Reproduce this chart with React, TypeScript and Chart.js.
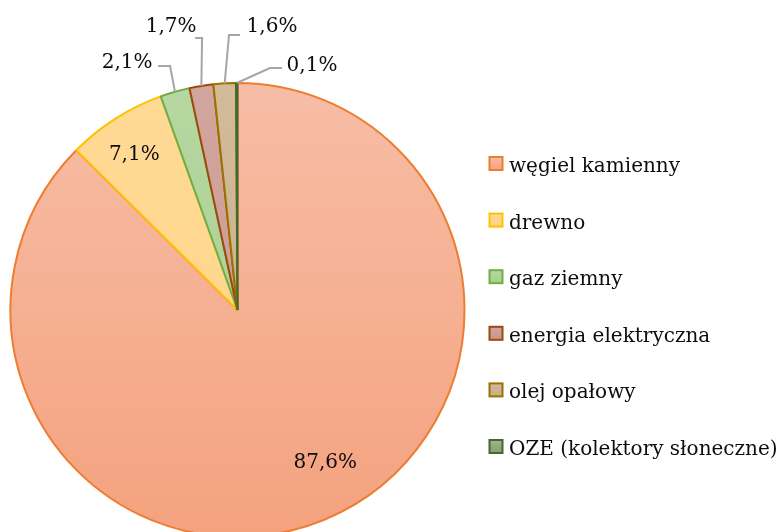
import React, { useEffect, useRef } from 'react';
import { Chart, registerables } from 'chart.js';

Chart.register(...registerables);

// ---- data ----
const CATEGORIES = [
  'węgiel kamienny',
  'drewno',
  'gaz ziemny',
  'energia elektryczna',
  'olej opałowy',
  'OZE (kolektory słoneczne)',
];
const VALUES = [87.6, 7.1, 2.1, 1.7, 1.6, 0.1];

// ---- styles ----
const BORDER_COLORS = ['#ED7D31', '#FFC000', '#70AD47', '#9E480E', '#997300', '#43682B'];
const FILL_TOP = ['#F7BDA6', '#FFDA96', '#B6D7A1', '#D2A59D', '#D3BA99', '#9DB38F'];
const FILL_BOTTOM = ['#F4A27E', '#FFD283', '#A5CE8B', '#C7978E', '#C8AD88', '#86A077'];
const TEXT_COLOR = '#0D0D0D';
const LEADER_COLOR = '#A6A6A6';
const FONT_FAMILY = '"DejaVu Serif", serif';
const FONT_SIZE = 20;
const RADIUS = 227;

// label layout: inside labels polar (angle shift deg, radius factor); outside labels offsets from slice edge point
const LABEL_LAYOUT: any[] = [
  { inside: true, angleShift: -7.5, rf: 0.77 },
  { inside: true, angleShift: -0.7, rf: 0.83 },
  { inside: false, label: [-47.9, -30.8], start: [-16.9, -25.8], elbow: [-4.9, -25.8] },
  { inside: false, label: [-30.3, -60.9], start: [-6.3, -47.9], elbow: [0.7, -47.9] },
  { inside: false, label: [47.3, -58.4], start: [15.3, -48.4], elbow: [4.3, -48.4] },
  { inside: false, label: [75.2, -19.5], start: [45.2, -15], elbow: [33.2, -15] },
];

const LEGEND_BOX_X = 489.5;
const LEGEND_BOX = 13;
const LEGEND_Y0 = 163.5;
const LEGEND_GAP = 56.6;
const LEGEND_TEXT_X = 509;

const fmt = (v: number) => v.toFixed(1).replace('.', ',') + '%';

const labelPlugin = {
  id: 'pieLabels',
  afterDatasetsDraw(chart: any) {
    const ctx = chart.ctx;
    const meta = chart.getDatasetMeta(0);
    ctx.save();
    ctx.font = `${FONT_SIZE}px ${FONT_FAMILY}`;
    ctx.fillStyle = TEXT_COLOR;
    ctx.textAlign = 'center';
    ctx.textBaseline = 'alphabetic';
    meta.data.forEach((arc: any, i: number) => {
      const { x, y, startAngle, endAngle, outerRadius } = arc.getProps(
        ['x', 'y', 'startAngle', 'endAngle', 'outerRadius'],
        true
      );
      const mid = (startAngle + endAngle) / 2;
      const lay = LABEL_LAYOUT[i];
      let cx: number;
      let cy: number;
      if (lay.inside) {
        const a = mid + (lay.angleShift * Math.PI) / 180;
        const r = outerRadius * lay.rf;
        cx = x + Math.cos(a) * r;
        cy = y + Math.sin(a) * r;
      } else {
        const ex = x + Math.cos(mid) * outerRadius;
        const ey = y + Math.sin(mid) * outerRadius;
        ctx.strokeStyle = LEADER_COLOR;
        ctx.lineWidth = 2;
        ctx.beginPath();
        ctx.moveTo(ex + lay.start[0], ey + lay.start[1]);
        ctx.lineTo(ex + lay.elbow[0], ey + lay.elbow[1]);
        ctx.lineTo(ex, ey);
        ctx.stroke();
        cx = ex + lay.label[0];
        cy = ey + lay.label[1];
      }
      ctx.fillText(fmt(VALUES[i]), cx, cy + FONT_SIZE * 0.364);
    });
    ctx.restore();
  },
};

const legendPlugin = {
  id: 'customLegend',
  afterDraw(chart: any) {
    const ctx = chart.ctx;
    ctx.save();
    ctx.font = `${FONT_SIZE}px ${FONT_FAMILY}`;
    ctx.textAlign = 'left';
    ctx.textBaseline = 'alphabetic';
    CATEGORIES.forEach((name, i) => {
      const cy = LEGEND_Y0 + i * LEGEND_GAP;
      const top = cy - LEGEND_BOX / 2;
      const g = ctx.createLinearGradient(0, top, 0, top + LEGEND_BOX);
      g.addColorStop(0, FILL_TOP[i]);
      g.addColorStop(1, FILL_BOTTOM[i]);
      ctx.fillStyle = g;
      ctx.fillRect(LEGEND_BOX_X, top, LEGEND_BOX, LEGEND_BOX);
      ctx.strokeStyle = BORDER_COLORS[i];
      ctx.lineWidth = 2;
      ctx.strokeRect(LEGEND_BOX_X, top, LEGEND_BOX, LEGEND_BOX);
      ctx.fillStyle = TEXT_COLOR;
      ctx.fillText(name, LEGEND_TEXT_X, cy + 8.5);
    });
    ctx.restore();
  },
};

export default function App() {
  const canvasRef = useRef<HTMLCanvasElement | null>(null);

  useEffect(() => {
    if (!canvasRef.current) return;
    const chart = new Chart(canvasRef.current, {
      type: 'pie',
      data: {
        labels: CATEGORIES,
        datasets: [
          {
            data: VALUES,
            backgroundColor: (c: any) => {
              const i = c.dataIndex;
              const area = c.chart.chartArea;
              if (!area) return FILL_TOP[i];
              const cy = (area.top + area.bottom) / 2;
              const g = c.chart.ctx.createLinearGradient(0, cy - RADIUS, 0, cy + RADIUS);
              g.addColorStop(0, FILL_TOP[i]);
              g.addColorStop(1, FILL_BOTTOM[i]);
              return g;
            },
            borderColor: BORDER_COLORS,
            borderWidth: 2,
            hoverOffset: 0,
          },
        ],
      },
      options: {
        animation: false,
        responsive: true,
        maintainAspectRatio: false,
        radius: RADIUS,
        layout: { padding: { left: 0, right: 307, top: 88, bottom: 0 } },
        plugins: {
          legend: { display: false },
          tooltip: { enabled: false },
        },
      } as any,
      plugins: [labelPlugin, legendPlugin],
    });
    return () => chart.destroy();
  }, []);

  return (
    <div style={{ position: 'fixed', left: 0, top: 0, width: 782, height: 532, background: '#fff' }}>
      <canvas ref={canvasRef} />
    </div>
  );
}
